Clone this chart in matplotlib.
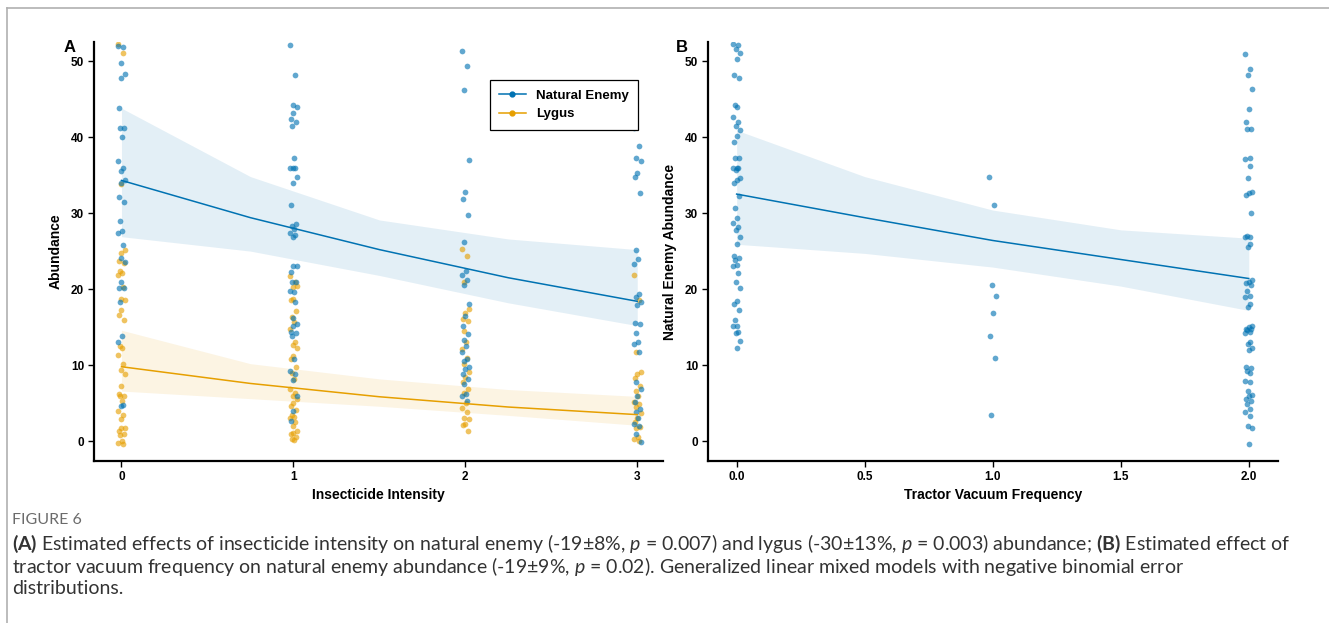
import numpy as np
import matplotlib
matplotlib.use("Agg")
import matplotlib.pyplot as plt
from matplotlib.lines import Line2D

plt.rcParams['font.family'] = ['Liberation Sans', 'DejaVu Sans']
plt.rcParams['mathtext.fontset'] = 'custom'
plt.rcParams['mathtext.rm'] = 'Lato'
plt.rcParams['mathtext.bf'] = 'Lato:bold'
plt.rcParams['mathtext.it'] = 'Lato:italic'

BLUE = '#0072B2'
ORANGE = '#E69F00'

# ---- panel A raw points (insecticide intensity 0..3)
ne_a = {
    0: [52.0, 51.9, 49.7, 48.3, 47.7, 43.8, 41.2, 41.2, 40.0, 36.8, 35.9, 35.6, 34.3, 34.0,
        32.1, 31.4, 28.9, 27.7, 27.4, 25.8, 24.1, 23.6, 20.9, 20.2, 20.1, 18.3, 13.9, 13.1,
        4.8, 4.7],
    1: [52.1, 48.1, 44.2, 43.9, 43.1, 42.4, 42.0, 41.4, 37.3, 35.9, 35.9, 35.9, 34.8, 33.9,
        31.1, 28.6, 28.3, 27.9, 27.4, 27.1, 26.9, 23.0, 23.0, 22.2, 21.0, 20.9, 19.6, 19.7,
        18.3, 16.2, 15.4, 15.1, 14.3, 14.2, 13.8, 10.8, 9.2, 8.9, 8.0, 6.0, 4.0, 2.7],
    2: [51.3, 49.3, 46.2, 37.0, 32.8, 31.9, 29.7, 26.2, 22.4, 21.9, 21.2, 20.6, 18.0, 16.5,
        15.2, 14.1, 13.3, 12.5, 11.7, 10.8, 10.5, 9.7, 9.5, 8.8, 8.2, 7.5, 6.2, 6.0, 5.3],
    3: [41.2, 38.8, 37.2, 36.8, 35.3, 34.7, 32.7, 25.1, 23.9, 23.3, 19.3, 19.0, 18.3, 17.9,
        15.5, 15.4, 14.2, 13.0, 12.8, 11.7, 7.8, 6.9, 6.0, 5.2, 4.3, 3.8, 3.0, 2.3, 2.0,
        1.0, -0.1],
}
ly_a = {
    0: [52.3, 51.1, 33.8, 25.2, 24.8, 23.7, 23.4, 22.4, 22.1, 21.9, 20.3, 18.7, 18.6, 17.2,
        16.6, 15.9, 12.5, 12.2, 11.3, 10.1, 9.4, 8.8, 7.2, 6.2, 6.0, 5.9, 5.3, 4.0, 3.4,
        2.9, 1.8, 1.7, 1.3, 1.0, 0.8, 0.0, -0.2, -0.3],
    1: [21.7, 20.9, 20.3, 20.4, 18.7, 18.6, 17.1, 16.4, 15.7, 14.8, 13.1, 12.7, 12.3, 11.2,
        10.8, 9.8, 9.0, 8.2, 6.9, 6.3, 5.9, 5.5, 5.0, 4.7, 4.1, 3.4, 3.2, 3.0, 2.5, 2.0,
        1.3, 1.1, 0.9, 0.5, 0.3, 0.1],
    2: [25.3, 24.3, 21.0, 17.4, 16.8, 16.1, 15.8, 14.5, 13.1, 12.1, 11.0, 10.2, 9.1, 8.5,
        7.8, 6.9, 6.4, 5.0, 4.4, 3.9, 3.1, 2.9, 2.3, 2.1, 1.3],
    3: [21.8, 18.6, 11.7, 9.1, 8.8, 8.3, 7.3, 6.6, 6.0, 5.2, 4.9, 4.5, 3.7, 3.1, 2.5, 1.9,
        1.7, 0.5, 0.3, 0.0],
}

# ---- panel A model fit
grid_a = [0, 0.75, 1.5, 2.25, 3]
ne_fit_a = [34.3, 29.4, 25.2, 21.5, 18.4]
ne_lo_a = [26.9, 25.0, 21.8, 18.2, 15.2]
ne_hi_a = [43.8, 34.8, 29.1, 26.6, 25.2]
ly_fit_a = [9.8, 7.6, 5.85, 4.5, 3.5]
ly_lo_a = [6.6, 5.6, 4.6, 3.4, 2.1]
ly_hi_a = [14.6, 10.2, 8.2, 6.8, 5.9]

# ---- panel B raw points (tractor vacuum frequency)
ne_b = {
    0.0: [52.2, 52.1, 51.6, 51.0, 50.3, 48.1, 47.7, 44.2, 43.9, 42.7, 42.0, 41.4, 40.9, 40.1,
          39.3, 37.3, 37.3, 35.9, 35.9, 35.9, 35.7, 34.6, 34.3, 33.9, 32.3, 30.7, 29.4, 28.7,
          28.2, 27.8, 26.9, 25.9, 24.3, 24.1, 23.8, 23.2, 23.0, 22.1, 21.0, 20.1, 18.4, 18.0,
          17.3, 15.9, 15.2, 15.1, 14.4, 14.2, 13.2, 12.2],
    1.0: [34.7, 31.1, 20.6, 19.1, 16.8, 13.8, 11.0, 3.4],
    2.0: [50.9, 48.9, 48.1, 46.3, 43.7, 42.0, 41.1, 41.0, 37.2, 37.1, 36.2, 34.6, 32.8, 32.6,
          32.4, 30.0, 27.0, 26.9, 26.8, 25.9, 25.6, 21.2, 20.9, 20.8, 20.5, 19.7, 19.1, 19.0,
          18.1, 17.7, 15.2, 15.0, 14.8, 14.7, 14.6, 14.4, 14.2, 13.0, 12.8, 12.2, 12.0, 9.8,
          9.6, 9.2, 9.0, 7.9, 7.8, 6.6, 6.1, 5.9, 5.5, 5.3, 4.9, 4.3, 3.8, 3.3, 2.0, 1.8, -0.4],
}
grid_b = [0, 0.5, 1.0, 1.5, 2.0]
ne_fit_b = [32.5, 29.4, 26.4, 23.9, 21.4]
ne_lo_b = [25.9, 24.7, 22.9, 20.4, 17.2]
ne_hi_b = [40.9, 34.8, 30.4, 27.8, 26.7]

# small fixed horizontal spread for overlapping points
jit = [-0.02, 0.01, -0.005, 0.02, 0.0, -0.015, 0.015, -0.01, 0.005]


def strip(ax, groups, color, scale):
    for x, vals in groups.items():
        xs = [x + jit[i % len(jit)] * scale for i in range(len(vals))]
        ax.scatter(xs, vals, s=17, color=color, alpha=0.62, linewidths=0, zorder=3)


def style(ax):
    for s in ['top', 'right']:
        ax.spines[s].set_visible(False)
    for s in ['left', 'bottom']:
        ax.spines[s].set_linewidth(1.6)
    ax.tick_params(direction='out', length=4, width=1, labelsize=8.5, pad=3)
    for lab in ax.get_xticklabels() + ax.get_yticklabels():
        lab.set_fontweight('bold')
    ax.set_ylim(-2.6, 52.5)
    ax.set_yticks([0, 10, 20, 30, 40, 50])


fig = plt.figure(figsize=(13.29, 6.23), dpi=100)
axA = fig.add_axes([0.0707, 0.26, 0.4282, 0.6726])
axB = fig.add_axes([0.5327, 0.26, 0.4289, 0.6726])

# panel A
axA.fill_between(grid_a, ne_lo_a, ne_hi_a, color=BLUE, alpha=0.11, linewidth=0, zorder=1)
axA.fill_between(grid_a, ly_lo_a, ly_hi_a, color=ORANGE, alpha=0.11, linewidth=0, zorder=1)
strip(axA, ly_a, ORANGE, 1.0)
strip(axA, ne_a, BLUE, 1.0)
axA.plot(grid_a, ne_fit_a, color=BLUE, lw=1.1, zorder=4)
axA.plot(grid_a, ly_fit_a, color=ORANGE, lw=1.1, zorder=4)
axA.set_xlim(-0.16, 3.15)
axA.set_xticks([0, 1, 2, 3])
style(axA)
axA.set_xlabel('Insecticide Intensity', fontsize=10, fontweight='bold', labelpad=4)
axA.set_ylabel('Abundance', fontsize=10, fontweight='bold', labelpad=6)

handles = [Line2D([], [], color=BLUE, lw=1.1, marker='o', markersize=3.5),
           Line2D([], [], color=ORANGE, lw=1.1, marker='o', markersize=3.5)]
leg = axA.legend(handles, ['Natural Enemy', 'Lygus'], loc='upper left',
                 bbox_to_anchor=(0.696, 0.909), borderaxespad=0, fancybox=False,
                 edgecolor='black', framealpha=1, handlelength=2.0,
                 prop={'weight': 'bold', 'size': 9.5}, borderpad=0.7, labelspacing=0.5)
leg.get_frame().set_linewidth(0.9)

# panel B
axB.fill_between(grid_b, ne_lo_b, ne_hi_b, color=BLUE, alpha=0.11, linewidth=0, zorder=1)
strip(axB, ne_b, BLUE, 0.67)
axB.plot(grid_b, ne_fit_b, color=BLUE, lw=1.1, zorder=4)
axB.set_xlim(-0.112, 2.114)
axB.set_xticks([0.0, 0.5, 1.0, 1.5, 2.0])
axB.set_xticklabels(['0.0', '0.5', '1.0', '1.5', '2.0'])
style(axB)
axB.set_xlabel('Tractor Vacuum Frequency', fontsize=10, fontweight='bold', labelpad=4)
axB.set_ylabel('Natural Enemy Abundance', fontsize=10, fontweight='bold', labelpad=6)

fig.text(64 / 1329, 1 - 48 / 623, 'A', fontsize=12, fontweight='bold', va='center')
fig.text(676 / 1329, 1 - 48 / 623, 'B', fontsize=12, fontweight='bold', va='center')

# frame of the figure page
fig.add_artist(Line2D([7 / 1329, 1], [1 - 8 / 623, 1 - 8 / 623], color='#b0b0b0', lw=1.2))
fig.add_artist(Line2D([7 / 1329, 7 / 1329], [0, 1 - 8 / 623], color='#b0b0b0', lw=1.2))

cap_font = ['Lato', 'DejaVu Sans']
fig.text(12 / 1329, 1 - 520 / 623, 'FIGURE 6', fontsize=11.5, color='#6b6b6b',
         family=cap_font, va='center')
lines = [
    r'$\mathbf{(A)}$ Estimated effects of insecticide intensity on natural enemy (-19±8%, $\mathit{p}$ = 0.007) '
    r'and lygus (-30±13%, $\mathit{p}$ = 0.003) abundance; $\mathbf{(B)}$ Estimated effect of',
    r'tractor vacuum frequency on natural enemy abundance (-19±9%, $\mathit{p}$ = 0.02). '
    'Generalized linear mixed models with negative binomial error',
    'distributions.',
]
for i, t in enumerate(lines):
    fig.text(12 / 1329, 1 - (544 + 22 * i) / 623, t, fontsize=14, color='#333333',
             family=cap_font, va='center')

fig.savefig('out.png', dpi=100)
